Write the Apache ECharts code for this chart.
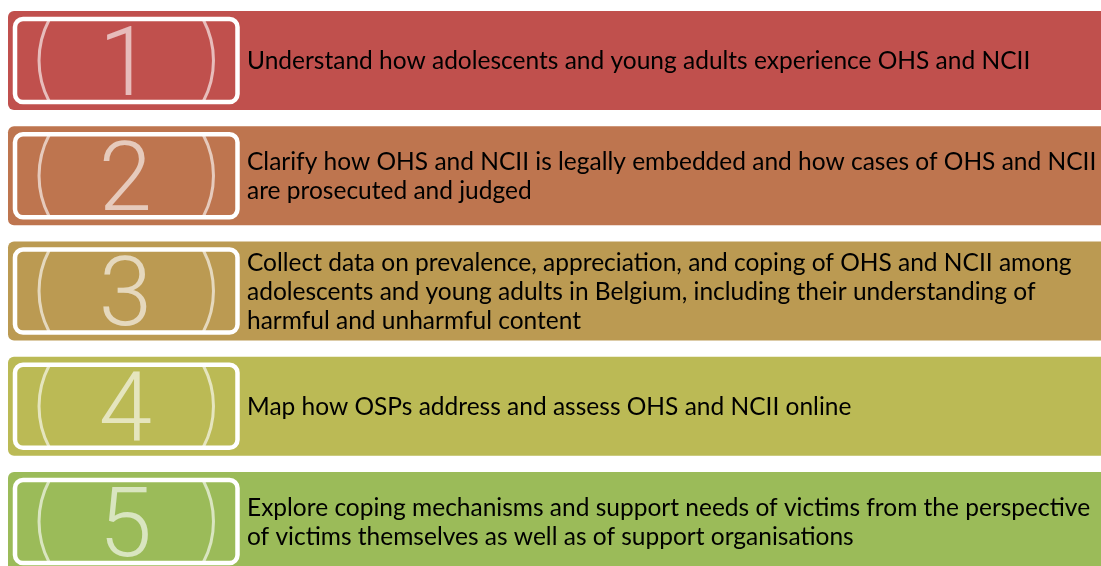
<!DOCTYPE html>
<html>
<head>
<meta charset="utf-8">
<script src="https://cdn.jsdelivr.net/npm/echarts@6/dist/echarts.min.js"></script>
<style>html,body{margin:0;padding:0;background:#fff}#c{width:1101px;height:566px}</style>
</head>
<body>
<div id="c"></div>
<script>
var stepNumbers = ['1', '2', '3', '4', '5'];
var stepLines = [
  ['Understand how adolescents and young adults experience OHS and NCII'],
  ['Clarify how OHS and NCII is legally embedded and how cases of OHS and NCII', 'are prosecuted and judged'],
  ['Collect data on prevalence, appreciation, and coping of OHS and NCII among', 'adolescents and young adults in Belgium, including their understanding of', 'harmful and unharmful content'],
  ['Map how OSPs address and assess OHS and NCII online'],
  ['Explore coping mechanisms and support needs of victims from the perspective', 'of victims themselves as well as of support organisations']
];
var stepColors = ['#C0504D', '#BE754F', '#BB9A52', '#BBBA55', '#9BBB59'];

var chart = echarts.init(document.getElementById('c'), null, {renderer: 'canvas'});
var data = stepNumbers.map(function (n, i) { return [0, i]; });

chart.setOption({
  animation: false,
  grid: {left: 0, right: 0, top: 0, bottom: 0, outerBoundsMode: 'none', containLabel: false},
  xAxis: {type: 'value', min: 0, max: 1101, show: false},
  yAxis: {type: 'value', inverse: true, min: -0.525, max: 4.386, show: false},
  series: [{
    type: 'custom',
    data: data,
    clip: false,
    renderItem: function (params, api) {
      var idx = api.value(1);
      var cy = api.coord([0, idx])[1];
      var pitch = api.coord([0, idx + 1])[1] - cy;
      var h = pitch * 0.86;
      var top = cy - h / 2;
      var bx = api.coord([15, idx])[0];
      var bx2 = api.coord([237.5, idx])[0];
      var boxTop = top + 8;
      var boxH = h - 16;
      var ccx = (bx + bx2) / 2;
      var ccy = boxTop + boxH / 2;
      var r = h * 0.88;
      var a = Math.asin((boxH / 2 - 1) / r);
      var tint = 'rgba(255,255,255,0.62)';
      return {
        type: 'group',
        children: [
          {type: 'rect', shape: {x: api.coord([8, idx])[0], y: top, width: 1200, height: h, r: 6},
            style: {fill: stepColors[idx]}},
          {type: 'arc', shape: {cx: ccx, cy: ccy, r: r, startAngle: -a, endAngle: a, clockwise: true},
            style: {stroke: tint, lineWidth: 3, fill: null}},
          {type: 'arc', shape: {cx: ccx, cy: ccy, r: r, startAngle: Math.PI - a, endAngle: Math.PI + a, clockwise: true},
            style: {stroke: tint, lineWidth: 3, fill: null}},
          {type: 'text', style: {text: stepNumbers[idx], x: ccx - 1, y: ccy + 10, fill: tint,
            fontFamily: 'Roboto', fontWeight: 300, fontSize: 96, align: 'center', verticalAlign: 'middle'}},
          {type: 'rect', shape: {x: bx, y: boxTop, width: bx2 - bx, height: boxH, r: 8},
            style: {fill: null, stroke: '#ffffff', lineWidth: 4.5}},
          {type: 'text', style: {text: stepLines[idx].join('\n'), x: api.coord([247, idx])[0], y: cy + 1,
            fill: '#000000', fontFamily: 'Lato', fontSize: 24.5, lineHeight: 29,
            align: 'left', verticalAlign: 'middle'}}
        ]
      };
    }
  }]
});
</script>
</body>
</html>
